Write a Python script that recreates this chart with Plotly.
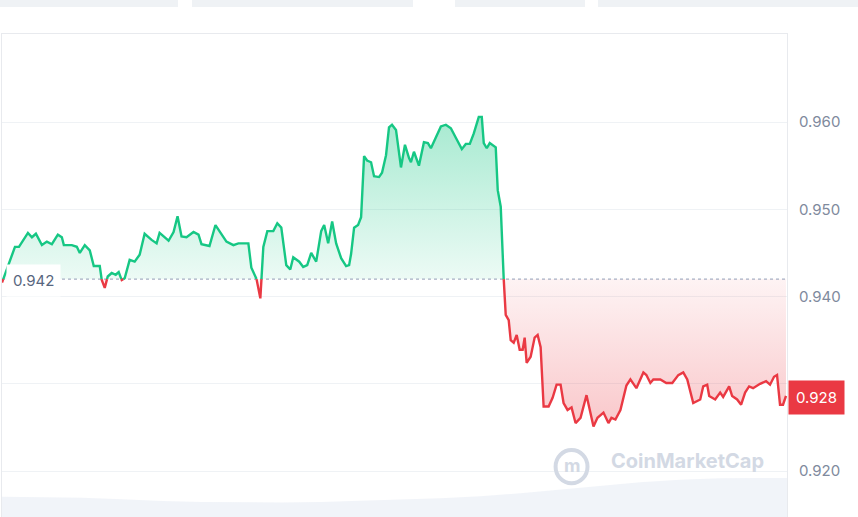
import plotly.graph_objects as go
import numpy as np

# time steps (arbitrary units, left to right) and price values
t = [0,13,17,26,30,34,40,45,50,56,60,62,70,75,78,83,88,92,98,100,103,106,110,114,117,120,123,128,133,138,143,150,155,158,163,167,172,176,180,185,192,197,200,208,214,220,225,232,237,245,247,250,255,259,262,266,272,276,280,285,289,292,298,302,306,310,315,320,323,327,331,335,340,345,348,350,353,357,360,363,366,370,373,378,381,385,388,391,395,
     400,404,408,410,413,418,423,427,430,436,440,445,450,455,461,465,469,473,478,481,483,486,489,495,497,500,503,505,508,510,513,516,519,522,524,526,530,534,537,540,543,548,552,556,560,563,567,571,575,580,586,590,593,597,603,608,611,615,620,626,630,636,643,646,650,653,660,666,672,678,683,687,693,700,703,707,709,715,720,723,729,732,737,741,745,749,753,760,766,770,774,777,780,783,786]
price = [0.9416,0.9457,0.9457,0.9473,0.9468,0.9472,0.9459,0.9463,0.9460,0.9471,0.9468,0.9459,0.9459,0.9457,0.9450,0.9459,0.9453,0.9435,0.9435,0.9419,0.9410,0.9423,0.9427,0.9425,0.9428,0.9419,0.9421,0.9442,0.9440,0.9448,0.9472,0.9465,0.9461,0.9473,0.9468,0.9464,0.9474,0.9492,0.9469,0.9468,0.9474,0.9471,0.9460,0.9458,0.9482,0.9471,0.9463,0.9459,0.9461,0.9461,0.9461,0.9433,0.9421,0.9398,0.9457,0.9475,0.9475,0.9484,0.9479,0.9436,0.9431,0.9445,0.9440,0.9434,0.9436,0.9450,0.9440,0.9475,0.9482,0.9461,0.9486,0.9461,0.9444,0.9435,0.9436,0.9449,0.9479,0.9482,0.9491,0.9561,0.9556,0.9554,0.9538,0.9537,0.9542,0.9562,0.9594,0.9597,0.9591,
         0.9548,0.9574,0.9559,0.9554,0.9566,0.9550,0.9577,0.9576,0.9570,0.9585,0.9595,0.9597,0.9593,0.9582,0.9569,0.9575,0.9575,0.9587,0.9606,0.9606,0.9576,0.9570,0.9576,0.9571,0.9522,0.9503,0.9420,0.9379,0.9373,0.9350,0.9347,0.9356,0.9339,0.9339,0.9353,0.9324,0.9331,0.9353,0.9356,0.9342,0.9274,0.9274,0.9284,0.9299,0.9299,0.9278,0.9270,0.9273,0.9255,0.9261,0.9287,0.9267,0.9251,0.9261,0.9267,0.9255,0.9261,0.9259,0.9270,0.9298,0.9305,0.9295,0.9313,0.9310,0.9301,0.9305,0.9305,0.9301,0.9301,0.9310,0.9313,0.9305,0.9278,0.9282,0.9297,0.9299,0.9286,0.9282,0.9290,0.9285,0.9297,0.9286,0.9282,0.9276,0.9290,0.9297,0.9295,0.9300,0.9303,0.9299,0.9308,0.9310,0.9276,0.9276,0.9286]

vol_t = [0,40,80,120,160,200,240,280,320,360,400,440,480,520,560,600,640,680,720,760,787]
volume = [42,41,40,37,33,31,30,30,31,33,36,39,43,49,57,65,72,77,80,81,81]

base = 0.942
y_ticks = [0.920,0.930,0.940,0.950,0.960]
y_ticklabels = ["0.920","","0.940","0.950","0.960"]

# insert crossing points at baseline
xs, ys = [t[0]], [price[0]]
for i in range(1, len(t)):
    y0, y1 = price[i-1], price[i]
    if (y0 - base) * (y1 - base) < 0:
        xc = t[i-1] + (base - y0) / (y1 - y0) * (t[i] - t[i-1])
        xs.append(xc); ys.append(base)
    xs.append(t[i]); ys.append(price[i])
xs = np.array(xs); ys = np.array(ys)
up = np.where(ys >= base, ys, np.nan)
dn = np.where(ys <= base, ys, np.nan)
upfill = np.maximum(ys, base)
dnfill = np.minimum(ys, base)
GREEN = "#16c784"; RED = "#ea3943"

fig = go.Figure()
fig.add_trace(go.Scatter(x=vol_t, y=volume, yaxis="y2", mode="lines", line=dict(width=0),
                         fill="tozeroy", fillcolor="rgba(228,233,244,0.5)", hoverinfo="skip"))
fig.add_trace(go.Scatter(x=xs, y=[base]*len(xs), mode="lines", line=dict(width=0), hoverinfo="skip"))
fig.add_trace(go.Scatter(x=xs, y=upfill, mode="lines", line=dict(width=0), fill="tonexty",
                         fillgradient=dict(type="vertical", colorscale=[[0, "rgba(22,199,132,0.08)"], [1, "rgba(22,199,132,0.38)"]]),
                         hoverinfo="skip"))
fig.add_trace(go.Scatter(x=xs, y=[base]*len(xs), mode="lines", line=dict(width=0), hoverinfo="skip"))
fig.add_trace(go.Scatter(x=xs, y=dnfill, mode="lines", line=dict(width=0), fill="tonexty",
                         fillgradient=dict(type="vertical", colorscale=[[0, "rgba(234,57,67,0.28)"], [1, "rgba(234,57,67,0.06)"]]),
                         hoverinfo="skip"))
fig.add_trace(go.Scatter(x=[0, 787], y=[base, base], mode="lines",
                         line=dict(color="#a6b0c3", width=1.2, dash="dot")))
fig.add_trace(go.Scatter(x=xs, y=up, mode="lines", line=dict(color=GREEN, width=2.4), connectgaps=False))
fig.add_trace(go.Scatter(x=xs, y=dn, mode="lines", line=dict(color=RED, width=2.4), connectgaps=False))

fig.update_layout(
    width=858, height=517, margin=dict(l=2, r=71, t=34, b=0),
    paper_bgcolor="white", plot_bgcolor="white", showlegend=False,
    font=dict(family="Inter", color="#808a9d"),
    xaxis=dict(range=[0, 787], showgrid=False, showticklabels=False, zeroline=False,
               showline=True, linecolor="#e8eaee", mirror=True, ticks=""),
    yaxis=dict(range=[0.91473, 0.9701], side="right", tickvals=y_ticks, ticktext=y_ticklabels,
               gridcolor="#eff2f5", zeroline=False, showline=True, linecolor="#e8eaee", mirror=True,
               tickfont=dict(size=15, color="#808a9d"), ticklabelstandoff=8),
    yaxis2=dict(range=[0, 1000], overlaying="y", visible=False),
)

fig.add_annotation(x=1, xref="paper", y=0.9284, yref="y", xanchor="left", text="0.928", showarrow=False,
                   font=dict(size=15, color="white"), bgcolor=RED, borderpad=7, xshift=1)
fig.add_annotation(x=4, y=0.9418, xanchor="left", text="0.942", showarrow=False,
                   font=dict(size=15, color="#58667e"), bgcolor="white", borderpad=6)
fig.add_annotation(x=766, y=0.9212, xanchor="right", text="<b>CoinMarketCap</b>", showarrow=False,
                   font=dict(size=20, color="#d3d9e4", family="Inter"))
fig.add_shape(type="circle", x0=555, x1=587, y0=0.9186, y1=0.9224, xref="x", yref="y",
              line=dict(color="#d3d9e4", width=4))
fig.add_annotation(x=571, y=0.9206, text="<b>m</b>", showarrow=False,
                   font=dict(size=18, color="#d3d9e4", family="Inter"))

for x0, x1 in [(0, 178), (192, 413), (455, 585), (598, 858)]:
    fig.add_shape(type="rect", xref="paper", yref="paper",
                  x0=(x0-2)/785, x1=(x1-2)/785, y0=1+(34-7)/483, y1=1+34/483+0.01,
                  line=dict(width=0), fillcolor="#eff2f5", layer="above")

fig.write_html("out.html", config={"displayModeBar": False},
               post_script="document.body.style.margin='0';")
